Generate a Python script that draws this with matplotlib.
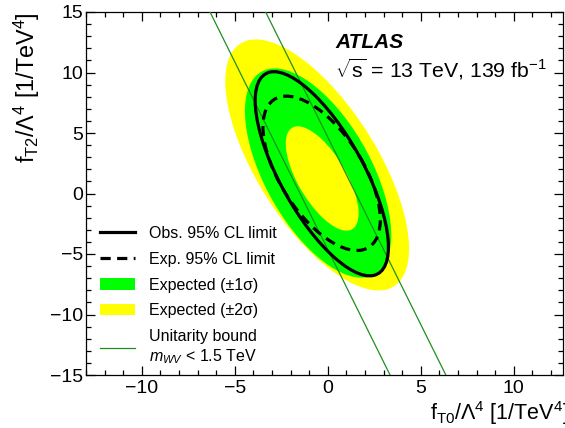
import matplotlib
matplotlib.use('Agg')
import matplotlib.pyplot as plt
from matplotlib.patches import Ellipse, Patch
from matplotlib.lines import Line2D
from matplotlib.ticker import MultipleLocator

plt.rcParams.update({
    'font.family': 'Liberation Sans',
    'mathtext.fontset': 'custom',
    'mathtext.rm': 'Liberation Sans',
    'mathtext.it': 'Liberation Sans:italic',
    'mathtext.bf': 'Liberation Sans:bold',
    'axes.linewidth': 0.9,
})

# 2D limit contours in the (fT0, fT2) plane, as ellipses:
# centre x, centre y, full width, full height, rotation (deg)
contour_names = ['band2_outer', 'band1_outer', 'band1_inner', 'observed', 'expected']
centre_x = [-0.57, -0.52, -0.30, -0.32, -0.33]
centre_y = [2.36, 1.69, 1.24, 1.63, 1.67]
widths = [21.9, 18.0, 9.06, 17.7, 13.4]
heights = [6.98, 6.09, 2.77, 4.76, 4.80]
angles = [109.7, 107.1, 108.7, 108.3, 109.1]

# unitarity bound (m_WV < 1.5 TeV): two parallel lines, x at y = +15 and y = -15
unit_y = [15, -15]
unit_lo_x = [-6.33, 3.35]
unit_hi_x = [-3.34, 6.35]

YELLOW = '#ffff00'
GREEN = '#00ff00'
UNIT_GREEN = '#1f8f1f'
DASH = (0, (3.2, 2.0))

fig = plt.figure(figsize=(5.65, 4.28), dpi=100)
ax = fig.add_axes([86 / 565, 1 - 375 / 428, (563 - 86) / 565, (375 - 12) / 428])

def contour(i, **kw):
    return Ellipse((centre_x[i], centre_y[i]), widths[i], heights[i], angle=angles[i], **kw)

# bands: outer yellow, green, inner yellow
ax.add_patch(contour(0, facecolor=YELLOW, edgecolor='none', zorder=1))
ax.add_patch(contour(1, facecolor=GREEN, edgecolor='none', zorder=2))
ax.add_patch(contour(2, facecolor=YELLOW, edgecolor='none', zorder=3))

# unitarity lines
ax.plot(unit_lo_x, unit_y, color=UNIT_GREEN, lw=0.9, zorder=4)
ax.plot(unit_hi_x, unit_y, color=UNIT_GREEN, lw=0.9, zorder=4)

# observed / expected limits
ax.add_patch(contour(3, facecolor='none', edgecolor='black', lw=2.3, zorder=5))
ax.add_patch(contour(4, facecolor='none', edgecolor='black', lw=2.3, linestyle=DASH, zorder=5))

ax.set_xlim(-13, 12.65)
ax.set_ylim(-15, 15)
ax.xaxis.set_major_locator(MultipleLocator(5))
ax.xaxis.set_minor_locator(MultipleLocator(1))
ax.yaxis.set_major_locator(MultipleLocator(5))
ax.yaxis.set_minor_locator(MultipleLocator(1))
ax.tick_params(which='both', direction='in', top=True, right=True, labelsize=14)
ax.tick_params(which='major', length=6.5, width=0.9)
ax.tick_params(which='minor', length=3.3, width=0.9)
ax.tick_params(axis='y', pad=2)
ax.tick_params(axis='x', pad=3.5)

# axis titles (ROOT style: aligned to the axis ends)
fig.text(430 / 565, 1 - 420 / 428, r'f$_{\mathregular{T0}}$/$\Lambda^{\mathregular{4}}$ [1/TeV$^{\mathregular{4}}$]',
         fontsize=15.5, ha='left', va='baseline')
fig.text(27 / 565, 1 - 12 / 428, r'f$_{\mathregular{T2}}$/$\Lambda^{\mathregular{4}}$ [1/TeV$^{\mathregular{4}}$]',
         fontsize=16.8, ha='center', va='top', rotation=90)

fig.text(335 / 565, 1 - 48 / 428, 'ATLAS', fontsize=15, fontweight='bold', fontstyle='italic',
         ha='left', va='baseline')
fig.text(335 / 565, 1 - 77 / 428, r'$\sqrt{\mathregular{s}}$ = 13 TeV, 139 fb$^{-1}$', fontsize=15.3,
         ha='left', va='baseline')

handles = [
    Line2D([], [], color='black', lw=2.3),
    Line2D([], [], color='black', lw=2.3, linestyle=DASH),
    Patch(facecolor=GREEN, edgecolor='none'),
    Patch(facecolor=YELLOW, edgecolor='none'),
    Line2D([], [], color=UNIT_GREEN, lw=0.9),
]
labels = ['Obs. 95% CL limit', 'Exp. 95% CL limit', 'Expected (±1σ)', 'Expected (±2σ)',
          'Unitarity bound\n$m_{WV}$ < 1.5 TeV']
ax.legend(handles, labels, loc='upper left', bbox_to_anchor=(0.029, 0.411), frameon=False,
          fontsize=11.5, handlelength=2.2, handletextpad=0.85, labelspacing=0.68,
          borderpad=0, borderaxespad=0)

fig.savefig('out.png', dpi=100)
